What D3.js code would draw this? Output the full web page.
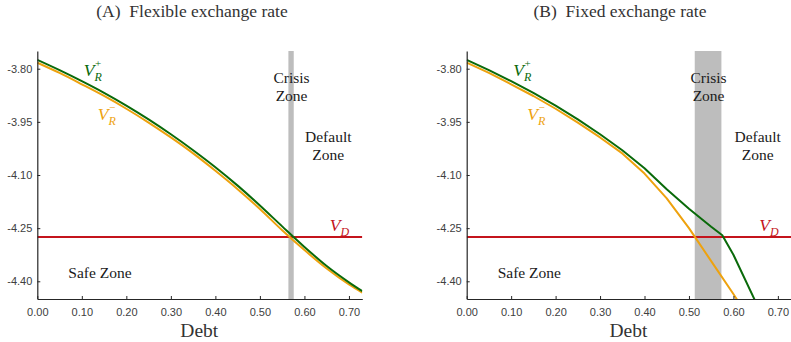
<!DOCTYPE html>
<html>
<head>
<meta charset="utf-8">
<script src="https://cdn.jsdelivr.net/npm/d3@7"></script>
<style>
  html, body { margin: 0; padding: 0; background: #fff; }
  svg { display: block; }
</style>
</head>
<body>
<svg id="chart" width="791" height="342"></svg>
<script>
// Debt grid and value functions
const debtGrid = [0, 0.05, 0.10, 0.15, 0.20, 0.25, 0.30, 0.35, 0.40, 0.45, 0.50, 0.55, 0.60, 0.65, 0.70, 0.73];

// (A) Flexible exchange rate
const flexVRplus  = [-3.775, -3.804, -3.835, -3.868, -3.904, -3.943, -3.985, -4.030, -4.078, -4.130, -4.186, -4.245, -4.303, -4.357, -4.403, -4.428];
const flexVRminus = [-3.783, -3.812, -3.844, -3.877, -3.913, -3.952, -3.994, -4.039, -4.088, -4.140, -4.196, -4.256, -4.312, -4.364, -4.409, -4.432];

// (B) Fixed exchange rate
const fixedDebtPlus  = [0, 0.05, 0.10, 0.15, 0.20, 0.25, 0.30, 0.35, 0.40, 0.45, 0.50, 0.55, 0.575, 0.60, 0.65];
const fixedVRplus    = [-3.775, -3.804, -3.835, -3.868, -3.904, -3.943, -3.985, -4.030, -4.081, -4.140, -4.195, -4.246, -4.270, -4.325, -4.458];
const fixedDebtMinus = [0, 0.05, 0.10, 0.15, 0.20, 0.25, 0.30, 0.35, 0.40, 0.45, 0.50, 0.55, 0.60, 0.62];
const fixedVRminus   = [-3.783, -3.812, -3.844, -3.877, -3.913, -3.952, -3.994, -4.039, -4.096, -4.166, -4.250, -4.343, -4.436, -4.475];

// Value of default
const vD = -4.275;

// Crisis zone bounds [low, high] in debt
const flexCrisis  = [0.564, 0.576];
const fixedCrisis = [0.513, 0.573];

// Axis ticks
const xTicks = [0, 0.10, 0.20, 0.30, 0.40, 0.50, 0.60, 0.70];
const yTicks = [-3.80, -3.95, -4.10, -4.25, -4.40];
const xDomain = [0, 0.73];
const yDomain = [-4.45, -3.75];

const titles = ["(A)\u2002Flexible exchange rate", "(B)\u2002Fixed exchange rate"];

const GREEN = "#0a6a0a";
const ORANGE = "#eea20e";
const RED = "#c4141c";
const GREY = "#bdbdbd";
const SERIF = "'Liberation Serif', 'DejaVu Serif', serif";
const SANS = "'Liberation Sans', Arial, sans-serif";

const svg = d3.select("#chart");

const panels = [
  {
    left: 37.3, width: 325, title: titles[0], titleX: 192,
    plus: { x: debtGrid, y: flexVRplus, curve: d3.curveMonotoneX },
    minus: { x: debtGrid, y: flexVRminus, curve: d3.curveMonotoneX },
    crisis: flexCrisis
  },
  {
    left: 466.7, width: 324.5, title: titles[1], titleX: 620,
    plus: { x: fixedDebtPlus, y: fixedVRplus, curve: d3.curveLinear },
    minus: { x: fixedDebtMinus, y: fixedVRminus, curve: d3.curveLinear },
    crisis: fixedCrisis
  }
];

const plotTop = 51, plotBottom = 299;

panels.forEach((p, i) => {
  const x = d3.scaleLinear().domain(xDomain).range([p.left, p.left + p.width]);
  const y = d3.scaleLinear().domain(yDomain).range([plotBottom, plotTop]);
  const g = svg.append("g");

  const clipId = "clip" + i;
  svg.append("clipPath").attr("id", clipId)
    .append("rect")
    .attr("x", p.left).attr("y", plotTop)
    .attr("width", p.width).attr("height", plotBottom - plotTop);

  // Title
  g.append("text")
    .attr("x", p.titleX).attr("y", 17)
    .attr("text-anchor", "middle")
    .attr("font-family", SERIF).attr("font-size", 17.5)
    .attr("fill", "#333")
    .text(p.title);

  // Crisis band
  g.append("rect")
    .attr("x", x(p.crisis[0])).attr("y", plotTop)
    .attr("width", x(p.crisis[1]) - x(p.crisis[0]))
    .attr("height", plotBottom - plotTop)
    .attr("fill", GREY);

  const plot = g.append("g").attr("clip-path", `url(#${clipId})`);

  // Default value line
  plot.append("line")
    .attr("x1", x(xDomain[0])).attr("x2", x(xDomain[1]))
    .attr("y1", y(vD)).attr("y2", y(vD))
    .attr("stroke", RED).attr("stroke-width", 2);

  const drawSeries = (s, color) => {
    const pts = s.x.map((d, k) => [d, s.y[k]]);
    plot.append("path")
      .datum(pts)
      .attr("fill", "none")
      .attr("stroke", color)
      .attr("stroke-width", 2)
      .attr("stroke-linejoin", "round")
      .attr("d", d3.line().x(d => x(d[0])).y(d => y(d[1])).curve(s.curve));
  };
  drawSeries(p.minus, ORANGE);
  drawSeries(p.plus, GREEN);

  // Axes
  const xAxis = d3.axisBottom(x).tickValues(xTicks).tickFormat(d3.format(".2f"))
    .tickSizeInner(-3).tickSizeOuter(0).tickPadding(9);
  const yAxis = d3.axisLeft(y).tickValues(yTicks).tickFormat(d3.format(".2f"))
    .tickSizeInner(-3).tickSizeOuter(0).tickPadding(5);

  const gx = g.append("g").attr("transform", `translate(0,${plotBottom})`).call(xAxis);
  const gy = g.append("g").attr("transform", `translate(${p.left},0)`).call(yAxis);
  [gx, gy].forEach(a => {
    a.select(".domain").attr("stroke", "#262626").attr("stroke-width", 1.2);
    a.selectAll(".tick line").attr("stroke", "#262626");
    a.selectAll(".tick text").attr("font-family", SANS).attr("font-size", 11).attr("fill", "#404040");
  });
  gy.selectAll(".tick text").text(d => d3.format(".2f")(d).replace("−", "-"));

  // Axis label
  g.append("text")
    .attr("x", p.left + p.width * 0.5 - 0.5).attr("y", 337)
    .attr("text-anchor", "middle")
    .attr("font-family", SERIF).attr("font-size", 19.5)
    .attr("fill", "#333")
    .text("Debt");

  // Zone annotations, one text element per line
  const zoneText = (cx, lines, y0, anchor) => {
    lines.forEach((ln, k) => {
      g.append("text")
        .attr("x", cx).attr("y", y0 + k * 18)
        .attr("font-family", SERIF).attr("font-size", 15.5)
        .attr("fill", "#1a1a1a")
        .attr("text-anchor", anchor || "middle")
        .text(ln);
    });
  };
  const crisisMid = x((p.crisis[0] + p.crisis[1]) / 2);
  zoneText(crisisMid + 0.5, ["Crisis", "Zone"], 83);
  zoneText(p.left + 291, ["Default", "Zone"], 142);
  zoneText(p.left + 31, ["Safe Zone"], 278, "start");

  // Math labels: italic V, subscript below-right, superscript above-right
  const mathLabel = (lx, ly, sub, sup, color) => {
    const v = g.append("text")
      .attr("x", lx).attr("y", ly)
      .attr("font-family", SERIF).attr("font-style", "italic")
      .attr("font-size", 17.5).attr("fill", color)
      .text("V");
    const vw = v.node().getComputedTextLength();
    g.append("text")
      .attr("x", lx + vw).attr("y", ly + 4.5)
      .attr("font-family", SERIF).attr("font-style", "italic")
      .attr("font-size", 12).attr("fill", color)
      .text(sub);
    if (sup) {
      g.append("text")
        .attr("x", lx + vw + 0.5).attr("y", ly - 9.5)
        .attr("font-family", SERIF)
        .attr("font-size", 11).attr("fill", color)
        .text(sup);
    }
  };
  mathLabel(p.left + 46.5, 76, "R", "+", GREEN);
  mathLabel(p.left + 60.5, 120, "R", "\u2212", ORANGE);
  mathLabel(p.left + 292.5, 231, "D", null, RED);
});
</script>
</body>
</html>
